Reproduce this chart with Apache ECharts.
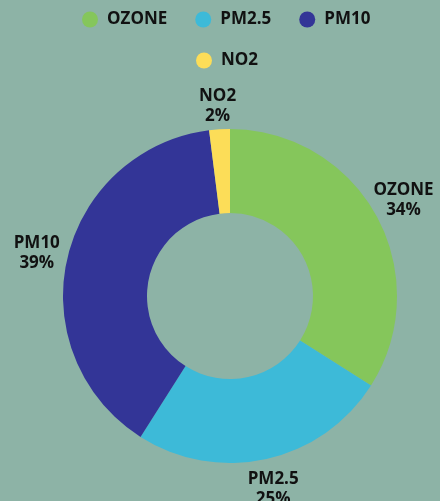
<!DOCTYPE html>
<html>
<head>
<meta charset="utf-8">
<script src="https://cdn.jsdelivr.net/npm/echarts@6/dist/echarts.min.js"></script>
<style>
  html, body { margin: 0; padding: 0; background: #8db3a6; }
  #chart { width: 440px; height: 501px; }
</style>
</head>
<body>
<div id="chart"></div>
<script>
var categories = ["OZONE", "PM2.5", "PM10", "NO2"];
var values = [34, 25, 39, 2];
var colors = ["#85c65b", "#3dbad8", "#333597", "#fcdd58"];

var legendText = {
  fontFamily: "Open Sans",
  fontWeight: "bold",
  fontSize: 17,
  color: "#111",
  padding: [0, 0, 0, 4]
};

var pieData = categories.map(function (c, i) {
  return { name: c, value: values[i] };
});

var myChart = echarts.init(document.getElementById("chart"));
var option = {
  backgroundColor: "#8db3a6",
  color: colors,
  legend: [
    {
      top: 6,
      left: 77,
      icon: "circle",
      itemWidth: 16,
      itemHeight: 16,
      itemGap: 28,
      textStyle: legendText,
      data: categories.slice(0, 3)
    },
    {
      top: 47,
      left: 191,
      icon: "circle",
      itemWidth: 16,
      itemHeight: 16,
      textStyle: legendText,
      data: categories.slice(3)
    }
  ],
  series: [
    {
      name: "Pollutants",
      type: "pie",
      radius: [83, 167],
      center: [230, 296],
      startAngle: 90,
      silent: true,
      label: { show: false },
      labelLine: { show: false },
      data: pieData
    },
    // 透明外环，只用来放标签
    {
      name: "labels",
      type: "pie",
      radius: [176, 214],
      center: [230, 296],
      startAngle: 90,
      silent: true,
      legendHoverLink: false,
      itemStyle: { color: "transparent" },
      label: {
        show: true,
        position: "inside",
        formatter: "{b}\n{d}%",
        fontFamily: "Open Sans",
        fontWeight: "bold",
        fontSize: 17,
        lineHeight: 20,
        color: "#111",
        overflow: "none"
      },
      labelLine: { show: false },
      labelLayout: function (p) {
        // 顶部小扇区的标签稍微往下
        if (p.dataIndex === 3) return { dy: 8 };
        return {};
      },
      data: pieData
    }
  ]
};
myChart.setOption(option);
</script>
</body>
</html>
